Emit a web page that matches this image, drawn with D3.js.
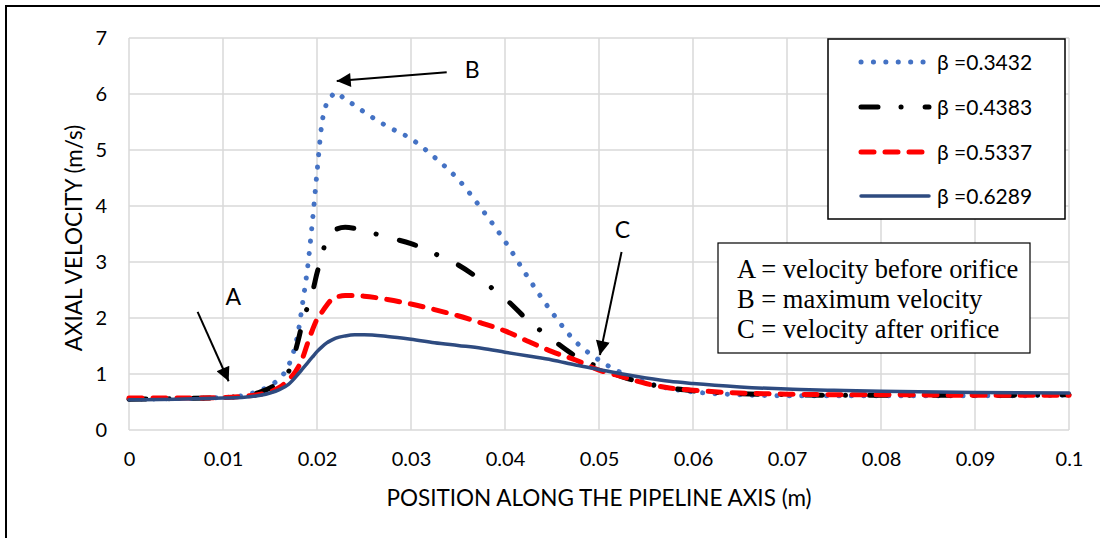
<!DOCTYPE html>
<html>
<head>
<meta charset="utf-8">
<script src="https://cdn.jsdelivr.net/npm/d3@7"></script>
<style>
  html, body { margin: 0; padding: 0; background: #fff; }
  svg { display: block; }
</style>
</head>
<body>
<svg id="chart" width="1100" height="538"></svg>
<script>
// ---------------- DATA ----------------
const positions = [0, 0.005, 0.01, 0.012, 0.014, 0.015, 0.016, 0.017, 0.018, 0.0185, 0.019, 0.0195, 0.02, 0.0205, 0.021, 0.0215, 0.022, 0.023, 0.024, 0.025, 0.0275, 0.03, 0.0325, 0.035, 0.0375, 0.04, 0.0425, 0.045, 0.0475, 0.05, 0.0525, 0.055, 0.0575, 0.06, 0.065, 0.07, 0.075, 0.08, 0.09, 0.1];

const beta03432 = [0.55, 0.56, 0.58, 0.61, 0.71, 0.79, 0.92, 1.16, 1.75, 2.3, 2.9, 3.7, 4.6, 5.45, 5.82, 5.95, 6.03, 5.9, 5.8, 5.68, 5.42, 5.2, 4.87, 4.48, 3.95, 3.37, 2.71, 2.1, 1.58, 1.25, 1.01, 0.85, 0.74, 0.68, 0.63, 0.61, 0.61, 0.61, 0.61, 0.62];
const beta04383 = [0.55, 0.56, 0.58, 0.6, 0.68, 0.75, 0.86, 1.05, 1.6, 1.95, 2.2, 2.45, 2.8, 3.1, 3.4, 3.52, 3.58, 3.62, 3.6, 3.56, 3.44, 3.33, 3.15, 2.95, 2.67, 2.35, 1.95, 1.62, 1.32, 1.12, 0.95, 0.83, 0.75, 0.7, 0.65, 0.63, 0.62, 0.62, 0.62, 0.63];
const beta05337 = [0.57, 0.57, 0.58, 0.6, 0.64, 0.68, 0.76, 0.9, 1.12, 1.3, 1.55, 1.78, 1.98, 2.1, 2.22, 2.32, 2.37, 2.4, 2.4, 2.39, 2.33, 2.25, 2.15, 2.04, 1.91, 1.77, 1.58, 1.4, 1.25, 1.07, 0.95, 0.83, 0.75, 0.71, 0.66, 0.64, 0.63, 0.63, 0.62, 0.62];
const beta06289 = [0.54, 0.55, 0.57, 0.58, 0.62, 0.66, 0.72, 0.82, 1.0, 1.1, 1.2, 1.3, 1.4, 1.48, 1.55, 1.6, 1.64, 1.68, 1.7, 1.7, 1.67, 1.62, 1.56, 1.51, 1.46, 1.39, 1.32, 1.25, 1.16, 1.08, 1.0, 0.93, 0.87, 0.83, 0.77, 0.73, 0.71, 0.69, 0.67, 0.66];

const seriesNames = ["β =0.3432", "β =0.4383", "β =0.5337", "β =0.6289"];
const xTicks = [0, 0.01, 0.02, 0.03, 0.04, 0.05, 0.06, 0.07, 0.08, 0.09, 0.1];
const xTickLabels = ["0", "0.01", "0.02", "0.03", "0.04", "0.05", "0.06", "0.07", "0.08", "0.09", "0.1"];
const yTicks = [0, 1, 2, 3, 4, 5, 6, 7];
const xTitle = "POSITION ALONG THE PIPELINE AXIS (m)";
const yTitle = "AXIAL VELOCITY (m/s)";
const noteLines = ["A = velocity before orifice", "B = maximum velocity", "C = velocity after orifice"];
// annotation letters: [label, labelX, labelY, arrowFromX, arrowFromY, arrowToX, arrowToY] in data units
const annotations = [
  ["A", 0.0111, 2.37, 0.0073, 2.11, 0.0106, 0.87],
  ["B", 0.0365, 6.43, 0.0338, 6.39, 0.0221, 6.23],
  ["C", 0.0525, 3.57, 0.0524, 3.18, 0.0501, 1.34]
];

// ---------------- LAYOUT ----------------
const svg = d3.select("#chart");
const W = 1100, H = 538;
const plot = { left: 129, right: 1069, top: 38, bottom: 430 };
const font = "Lato, 'Noto Sans', sans-serif";

const x = d3.scaleLinear().domain([0, 0.1]).range([plot.left, plot.right]);
const y = d3.scaleLinear().domain([0, 7]).range([plot.bottom, plot.top]);

svg.append("rect").attr("width", W).attr("height", H).attr("fill", "#fff");

// outer border (top and left visible)
svg.append("path").attr("d", `M6,${H} L6,6 L${W},6`).attr("fill", "none")
  .attr("stroke", "#000").attr("stroke-width", 2);

// gridlines
const grid = svg.append("g");
grid.selectAll("line.h").data(yTicks).join("line")
  .attr("x1", plot.left).attr("x2", plot.right)
  .attr("y1", d => y(d)).attr("y2", d => y(d))
  .attr("stroke", "#d9d9d9").attr("stroke-width", 1.5);
grid.selectAll("line.v").data(xTicks).join("line")
  .attr("y1", plot.top).attr("y2", plot.bottom)
  .attr("x1", d => x(d)).attr("x2", d => x(d))
  .attr("stroke", "#d9d9d9").attr("stroke-width", 1.5);

// axes via d3 axis (labels only)
const xAxis = d3.axisBottom(x).tickValues(xTicks).tickFormat((d, i) => xTickLabels[i]).tickSize(0).tickPadding(22);
const gx = svg.append("g").attr("transform", `translate(0,${plot.bottom})`).call(xAxis);
gx.select(".domain").remove();
gx.selectAll("text").attr("font-family", font).attr("font-size", 20).attr("fill", "#000");

const yAxis = d3.axisLeft(y).tickValues(yTicks).tickFormat(d3.format("d")).tickSize(0).tickPadding(22);
const gy = svg.append("g").attr("transform", `translate(${plot.left},0)`).call(yAxis);
gy.select(".domain").remove();
gy.selectAll("text").attr("font-family", font).attr("font-size", 20).attr("fill", "#000");

// axis titles
svg.append("text").attr("x", (plot.left + plot.right) / 2).attr("y", 506)
  .attr("text-anchor", "middle").attr("font-family", font).attr("font-size", 22.5).text(xTitle);
svg.append("text").attr("transform", `translate(82,${(plot.top + plot.bottom) / 2 + 4}) rotate(-90)`)
  .attr("text-anchor", "middle").attr("font-family", font).attr("font-size", 22.5).text(yTitle);

// series
const seriesData = [beta03432, beta04383, beta05337, beta06289];
const styles = [
  { color: "#4472c4", width: 5, dash: "0.1 12.3", cap: "round" },
  { color: "#000000", width: 5, dash: "17 23 0.1 24", cap: "round" },
  { color: "#ff0000", width: 5, dash: "13 11", cap: "round" },
  { color: "#2e4b80", width: 3.5, dash: null, cap: "round" }
];
const line = d3.line().x(d => x(d[0])).y(d => y(d[1])).curve(d3.curveMonotoneX);
const gl = svg.append("g");
seriesData.forEach((vals, i) => {
  const pts = positions.map((p, j) => [p, vals[j]]);
  const s = styles[i];
  gl.append("path").attr("d", line(pts)).attr("fill", "none")
    .attr("stroke", s.color).attr("stroke-width", s.width)
    .attr("stroke-linecap", s.cap).attr("stroke-linejoin", "round")
    .attr("stroke-dasharray", s.dash);
});

// legend
const lg = svg.append("g");
lg.append("rect").attr("x", 828).attr("y", 39).attr("width", 237).attr("height", 180)
  .attr("fill", "#fff").attr("stroke", "#000").attr("stroke-width", 1.5);
const legendY = [62, 107, 152, 196];
seriesNames.forEach((name, i) => {
  const s = styles[i];
  lg.append("line").attr("x1", 861).attr("x2", 929).attr("y1", legendY[i]).attr("y2", legendY[i])
    .attr("stroke", s.color).attr("stroke-width", s.width).attr("stroke-linecap", s.cap)
    .attr("stroke-dasharray", s.dash);
  lg.append("text").attr("x", 937).attr("y", legendY[i] + 7.5).attr("font-family", font)
    .attr("font-size", 21).text(name);
});

// note box
const nb = svg.append("g");
nb.append("rect").attr("x", 718).attr("y", 243).attr("width", 312).attr("height", 110)
  .attr("fill", "#fff").attr("stroke", "#000").attr("stroke-width", 1.2);
noteLines.forEach((t, i) => {
  nb.append("text").attr("x", 737).attr("y", 278 + i * 30)
    .attr("font-family", "'Liberation Serif', 'Times New Roman', serif").attr("font-size", 26.5).text(t);
});

// arrows
const defs = svg.append("defs");
defs.append("marker").attr("id", "arrow").attr("viewBox", "0 0 10 10").attr("refX", 10).attr("refY", 5)
  .attr("markerWidth", 8).attr("markerHeight", 7).attr("markerUnits", "strokeWidth").attr("orient", "auto")
  .append("path").attr("d", "M0,0 L10,5 L0,10 Z").attr("fill", "#000");
const ga = svg.append("g");
annotations.forEach(a => {
  ga.append("text").attr("x", x(a[1])).attr("y", y(a[2]) + 8).attr("text-anchor", "middle")
    .attr("font-family", font).attr("font-size", 23).text(a[0]);
  ga.append("line").attr("x1", x(a[3])).attr("y1", y(a[4])).attr("x2", x(a[5])).attr("y2", y(a[6]))
    .attr("stroke", "#000").attr("stroke-width", 2).attr("marker-end", "url(#arrow)");
});
</script>
</body>
</html>
